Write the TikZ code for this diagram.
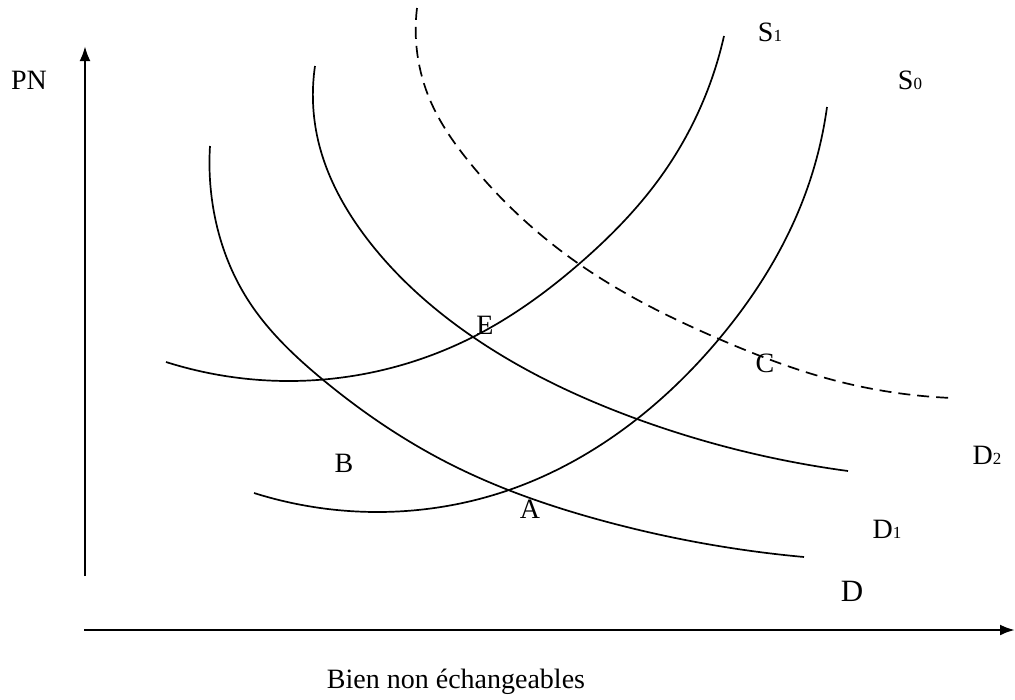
\documentclass[tikz,border=0pt]{standalone}
\usepackage{fontspec}
\setmainfont{Liberation Serif}
\usetikzlibrary{arrows.meta,hobby}
\newcommand{\lowdigit}[1]{{\fontsize{17}{17}\selectfont #1}}
\tikzset{
  curve/.style={line width=1.7pt, use Hobby shortcut},
  axis/.style={line width=2.6pt, -{Latex[length=15pt,width=11pt]}},
  lbl/.style={inner sep=0pt, font=\fontsize{28}{28}\selectfont},
}
\begin{document}
\begin{tikzpicture}[x=1pt,y=-1pt]
\useasboundingbox (0,0) rectangle (1015,699);
% axes
\coordinate (o1) at (85,576);
\coordinate (yt) at (85,46);
\coordinate (o2) at (84,630);
\coordinate (xt) at (1015,630);
\draw[axis] (o1) -- (yt);
\draw[axis] (o2) -- (xt);
% S1
\draw[curve] (166,362) .. (287,381) .. (473,337) .. (579,264) .. (662,175) .. (724,36);
% S0
\draw[curve] (254,493) .. (377,512) .. (509,490) .. (637,419) .. (719,339) .. (803,200) .. (827,107);
% D
\draw[curve] (210,146) .. (212,200) .. (248,300) .. (322,379) .. (450,464) .. (600,520) .. (804,557);
% D1
\draw[curve] (315,66) .. (318,140) .. (368,240) .. (473,337) .. (637,419) .. (848,471);
% D2 dashed
\draw[curve, dash pattern=on 12pt off 7pt] (417,8) .. (430,100) .. (470,163) .. (579,264) .. (719,339) .. (833,380) .. (952,398);
% labels
\node[lbl] (pn) at (29,80) {PN};
\node[lbl] (s1) at (770,32) {S\lowdigit{1}};
\node[lbl] (s0) at (910,80) {S\lowdigit{0}};
\node[lbl] (e) at (485,325) {E};
\node[lbl] (c) at (765,363) {C};
\node[lbl] (b) at (344,463) {B};
\node[lbl] (a) at (530,509) {A};
\node[lbl] (d2) at (987,455) {D\lowdigit{2}};
\node[lbl] (d1) at (887,529) {D\lowdigit{1}};
\node[lbl, font=\fontsize{31}{31}\selectfont] (d) at (852,591) {D};
\node[lbl] (xl) at (456,682) {Bien non échangeables};
\end{tikzpicture}
\end{document}
